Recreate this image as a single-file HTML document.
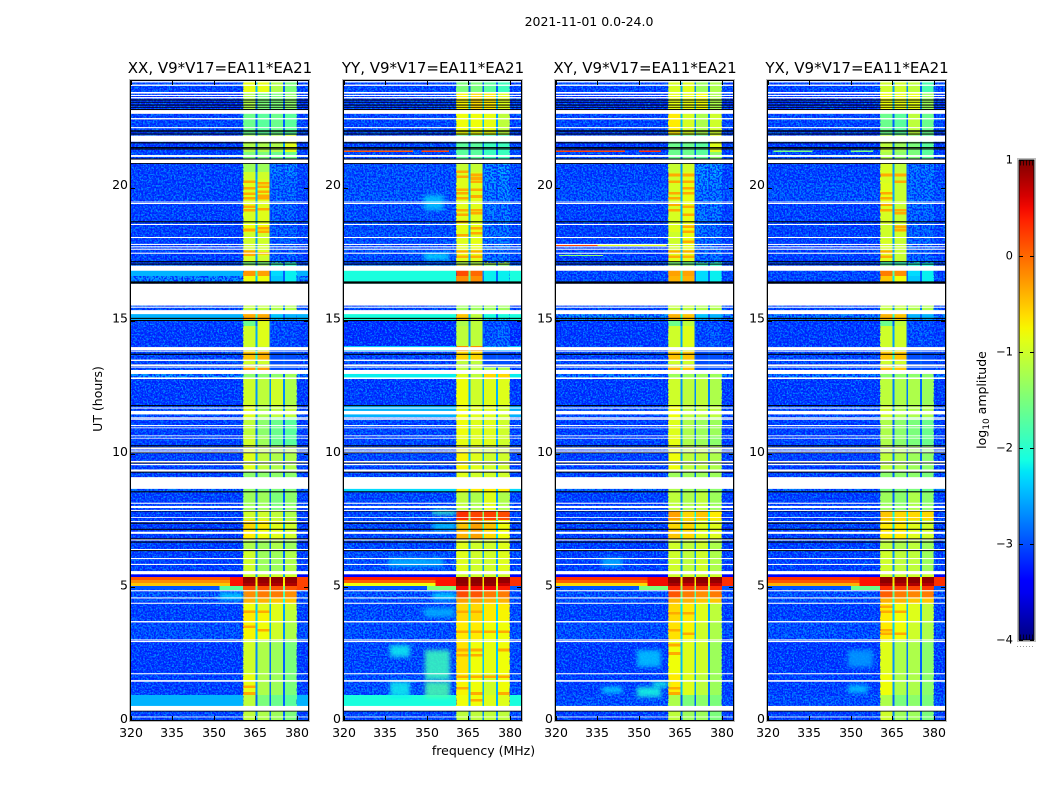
<!DOCTYPE html>
<html lang="en">
<head>
<meta charset="utf-8">
<title>2021-11-01 0.0-24.0</title>
<style>
html,body{margin:0;padding:0;background:#fff}
svg{display:block}
text{font-family:"DejaVu Sans","Liberation Sans",sans-serif;fill:#000}
</style>
</head>
<body>
<svg id="figure" xmlns="http://www.w3.org/2000/svg" width="1050" height="800" viewBox="0 0 1050 800">
<defs>
<filter id="speckle" x="0" y="0" width="100%" height="100%" color-interpolation-filters="sRGB">
<feTurbulence type="fractalNoise" baseFrequency="0.62" numOctaves="1" seed="7"/>
<feColorMatrix type="matrix" values="0 0 0 0 0  0 0 0 0 0.6  0 0 0 0 1  1 0 0 0 0"/>
<feComponentTransfer><feFuncA type="discrete" tableValues="0 0 0 0 0 0.55 0.75 0.85 0.9 1"/></feComponentTransfer>
</filter>
<filter id="speckle-dark" x="0" y="0" width="100%" height="100%" color-interpolation-filters="sRGB">
<feTurbulence type="fractalNoise" baseFrequency="0.55" numOctaves="1" seed="23"/>
<feColorMatrix type="matrix" values="0 0 0 0 0  0 0 0 0 0.08  0 0 0 0 1  1 0 0 0 0"/>
<feComponentTransfer><feFuncA type="discrete" tableValues="0 0 0 0 0 0.6 0.8 0.9 1 1"/></feComponentTransfer>
</filter>
<filter id="soften" x="-60%" y="-60%" width="220%" height="220%">
<feGaussianBlur stdDeviation="2"/>
</filter>
<linearGradient id="jet-gradient" x1="0" y1="1" x2="0" y2="0"></linearGradient>
</defs>
</svg>
<script>
// ---- data: axis ticks and labels ----
const freqTicks = [320, 335, 350, 365, 380];
const hourTicks = [0, 5, 10, 15, 20];
const colorTicks = [1, 0, -1, -2, -3, -4];
const panelNames = ["XX", "YY", "XY", "YX"];
const panelTitle = ", V9*V17=EA11*EA21";
// ---- data: spectral windows (MHz) ----
const bandEdgesMHz = [[360.5, 365], [365.7, 370.05], [370.6, 375.05], [375.65, 380]];
const freqRange = [320, 384];
// ---- data: time sections, UT hours ----
const rowEdgesUT = [24.00,23.55,22.91,21.97,21.33,20.92,20.58,20.43,20.32,20.17,19.91,19.46,19.23,18.63,18.33,18.03,17.65,17.42,17.20,17.06,16.67,16.38,15.24,15.02,14.79,14.04,13.85,13.52,13.23,12.99,12.80,11.82,11.37,10.66,10.28,9.38,9.12,8.55,7.84,7.50,7.16,6.75,6.37,5.46,5.35,5.24,5.13,5.02,4.87,4.57,4.38,4.12,3.67,2.99,1.71,0.92,0.51,-0.02];
// each row: log10 amplitude of [background, band1, band2, band3, band4]
const levelsXX = [
[-3,-.85,-.85,-1.2,-1.5],[-3.1,-1.2,-1.5,-1.5,-1.4],[-3,-1.6,-1.7,-1.6,-1.7],[-3.1,-1.2,-1.2,-1.2,-.9],[-3,-1.5,-1.5,-1.6,-1.6],
[-3.05,-1.3,-1.3,-2.7,-2.6],[-3.05,-1,-1,-2.7,-2.7],[-3.05,-1,-1,-2.8,-2.8],[-3.05,-.95,-.95,-2.8,-2.8],[-3.05,-.9,-.9,-2.8,-2.8],
[-3.05,-.9,-.9,-2.8,-2.8],[-3.05,-.9,-.9,-2.8,-2.8],[-3.05,-.95,-.9,-2.85,-2.85],[-3.05,-.8,-.75,-2.85,-2.85],[-3.05,-1,-1,-2.85,-2.85],
[-3.05,-1,-1,-2.85,-2.85],[-3.05,-.9,-.9,-2.85,-2.85],[-3.05,-.95,-1,-2.85,-2.85],[-3,-1.5,-1.5,-1.8,-1.9],[-2.5,-.25,-.3,-2.3,-2.2],
[-2.6,-.8,-.8,-2.4,-2.2],[-3,-1.1,-1.1,-1.2,-1.2],[-2.5,-.35,-.35,-2.4,-2.5],[-3.05,-1.6,-.9,-3,-3],[-3.1,-1,-.9,-3,-3],
[-3,-1,-1,-3,-3],[-3,-.5,-.4,-3,-3],[-3,-1,-1,-3,-3],[-3,-.3,-.3,-3,-3],[-2.6,-1.4,-1.4,-1.4,-1.3],
[-3.1,-1,-1.1,-1,-1.2],[-2.95,-.9,-1.2,-1.1,-1.1],[-3.05,-1.1,-1.4,-1.6,-1.7],[-3.05,-1,-1.3,-1.6,-1.7],[-3.05,-.9,-1.1,-1.2,-1.2],
[-3,-1.4,-1.4,-1.4,-1.4],[-2.8,-1.4,-1.5,-1.5,-1.5],[-3.05,-1.3,-1.3,-1.5,-1.4],[-3.05,-1,-1,-1.1,-1.2],[-3.1,-.6,-.7,-.9,-1],
[-3.1,-.7,-.8,-.9,-1],[-3.05,-1.2,-1.3,-1.2,-1.3],[-3.05,-1,-1.3,-1.3,-1.2],[-3.4,-1,-1,-1,-1],[.1,.95,.95,.95,.95],
[-.2,.9,.9,.9,.9],[-.5,.8,.8,.8,.8],[-2.95,.1,.1,.1,.1],[-2.9,-.2,-.1,-.1,-.2],[-2.95,-.4,-.4,-.5,-.5],
[-3.05,-.8,-.9,-.9,-1],[-3.05,-.7,-.75,-.9,-1.1],[-2.95,-.75,-.8,-1,-1.2],[-3.1,-1,-1.2,-1.3,-1.5],[-3.05,-.85,-1.2,-1.3,-1.5],
[-2.5,-1.1,-1.5,-1.6,-1.7],[-3,-1.1,-1.2,-1.3,-1.5]];
const levelsYY = [
[-3,-1.5,-1.5,-1.7,-1.9],[-3,-.75,-.6,-.7,-.9],[-3,-.8,-.8,-.85,-1.1],[-3,-1.7,-1.7,-1.9,-1.9],[-3,-1.7,-1.7,-1.9,-1.9],
[-2.95,-1.05,-1.05,-2.6,-2.5],[-2.95,-.95,-.95,-2.6,-2.5],[-2.95,-.95,-.95,-2.6,-2.6],[-2.95,-.9,-.9,-2.6,-2.6],[-2.95,-.9,-.9,-2.6,-2.6],
[-2.9,-.9,-.9,-2.7,-2.6],[-2.95,-.9,-.9,-2.7,-2.7],[-2.95,-.9,-.9,-2.7,-2.7],[-2.95,-.85,-.85,-2.7,-2.7],[-2.95,-.9,-.9,-2.7,-2.7],
[-2.95,-.9,-.85,-2.7,-2.7],[-2.95,-.85,-.85,-2.7,-2.7],[-2.95,-.9,-.9,-2.7,-2.7],[-3,-1.2,-1.2,-1.2,-1.2],[-2.1,.15,.0,-2.2,-2.2],
[-2.1,-.2,-.2,-2.2,-2.2],[-3,-1.3,-1.3,-1.3,-1.3],[-2.1,-.5,-1.1,-2.1,-2.1],[-3.2,-1.2,-1.1,-3,-3],[-3.2,-1.1,-1.1,-2.9,-2.8],
[-2.4,-.2,-.2,-2.5,-2.5],[-3,-.6,-.6,-3,-3],[-3,-1.1,-1.1,-3,-3],[-3,-1.1,-1.1,-1.2,-1.2],[-2.2,-.9,-1.1,-.6,-.6],
[-3.1,-.8,-1,-.9,-.9],[-2.5,-.8,-.9,-.9,-1],[-3,-.8,-.9,-.9,-1],[-3,-.85,-.9,-.9,-1],[-3,-.75,-.9,-1,-1],
[-3,-.9,-1,-1,-1],[-2.3,-.7,-.7,-.7,-.7],[-3,-1.1,-1.2,-.9,-1.2],[-2.95,.3,.2,.2,.15],[-3,-.5,-.3,-.5,-.8],
[-3,-.4,-.3,-.6,-.8],[-3,-.9,-1,-1,-.9],[-2.95,-.9,-1,-1,-.9],[-3.4,-1,-1,-1,-1],[.4,.95,.95,.95,.95],
[.05,.95,.95,.95,.9],[-.8,.9,.9,.9,.7],[-2.95,.5,.5,.5,.4],[-2.9,.15,.1,-.1,-.1],[-2.95,-.3,-.3,-.4,-.4],
[-3,-.6,-.6,-.7,-.7],[-2.95,-.6,-.6,-.7,-.75],[-2.95,-.7,-.7,-.8,-.8],[-3,-.65,-.8,-.85,-.8],[-2.95,-.75,-.8,-1,-.8],
[-2.1,-.8,-.8,-.9,-.9],[-3,-1.1,-1.1,-1.1,-1.1]];
const levelsXY = [
[-3,-.95,-.9,-1.3,-1.2],[-3.1,-.85,-.85,-.8,-1.2],[-3,-.7,-.95,-1.2,-1],[-3.1,-1.6,-1.6,-1.7,-.9],[-3,-1.6,-1.6,-1.7,-1.4],
[-3.05,-1.05,-1,-2.55,-2.5],[-3.05,-1,-.9,-2.55,-2.5],[-3.05,-1,-.9,-2.6,-2.6],[-3.05,-1,-.85,-2.6,-2.6],[-2.95,-.95,-.85,-2.6,-2.65],
[-2.95,-.95,-.85,-2.7,-2.7],[-3.05,-.95,-.85,-2.7,-2.6],[-3.05,-.95,-.85,-2.7,-2.7],[-3.05,-.9,-.8,-2.7,-2.75],[-3.05,-1,-.85,-2.75,-2.75],
[-3.05,-1,-.85,-2.75,-2.75],[-3.05,-.9,-.85,-2.75,-2.75],[-3.05,-.9,-.9,-2.75,-2.75],[-3,-1.5,-1.6,-1.8,-1.9],[-3,-.3,-.3,-2.3,-2.2],
[-3,-.4,-.4,-2.3,-2.2],[-3,-1.1,-1.1,-1.2,-1.2],[-2.6,-.4,-.5,-2.4,-2.5],[-3.1,-1.6,-1.1,-3,-3],[-3.1,-1,-.9,-3,-2.9],
[-3,-1,-1,-3,-3],[-3,-.5,-.5,-3,-3],[-3,-1,-1,-3,-3],[-3,-.4,-.5,-3,-3],[-2.7,-1.3,-1.3,-1.3,-1.3],
[-3.1,-1,-1.1,-1.1,-1.2],[-2.95,-.8,-1.1,-1.1,-1.1],[-3.05,-.9,-1.2,-1.3,-1.3],[-3.05,-.85,-1.2,-1.3,-1.4],[-3.05,-.8,-1.1,-1.1,-1.2],
[-3,-1.3,-1.3,-1.3,-1.3],[-2.8,-1.2,-1.3,-1.3,-1.4],[-3.05,-1.1,-1.2,-1.1,-1.3],[-3.05,-.3,-.6,-.5,-.7],[-3.05,-.6,-.6,-.9,-.9],
[-3.05,-.5,-.6,-.9,-.9],[-3.05,-1,-1.1,-1,-1.2],[-3.05,-1,-1.1,-1,-1.2],[-3.4,-1,-1,-1,-1],[.3,.95,.95,.95,.95],
[.05,.95,.9,.95,.9],[-.6,.8,.7,.8,.7],[-2.95,.35,.2,.2,.3],[-2.9,.1,-.1,-.2,-.1],[-2.95,-.4,-.4,-.5,-.5],
[-3.05,-.6,-.7,-.9,-1.1],[-3.05,-.6,-.7,-.9,-1.1],[-2.95,-.65,-.75,-1,-1.2],[-3.1,-.8,-.9,-1,-1.3],[-3.05,-.7,-.9,-1.1,-1.3],
[-2.95,-1.2,-1.5,-1.4,-1.5],[-3.05,-1.1,-1.3,-1.3,-1.5]];
const levelsYX = [
[-3,-1,-1,-1.1,-1.8],[-3.1,-.8,-.85,-.85,-1.3],[-3,-1.6,-1.7,-1.1,-1.6],[-3.1,-1.1,-1.3,-1.5,-1.7],[-3,-1.2,-1.4,-1.5,-1.7],
[-3.05,-.95,-1.1,-2.75,-2.7],[-3.05,-.9,-1.05,-2.75,-2.7],[-3.05,-.95,-1.05,-2.75,-2.75],[-3.05,-.95,-1.05,-2.75,-2.75],[-2.95,-.9,-1.05,-2.75,-2.75],
[-2.95,-.85,-1.05,-2.75,-2.75],[-3.05,-.9,-1.05,-2.75,-2.7],[-3.05,-.95,-1.05,-2.8,-2.8],[-3.05,-1,-.95,-2.8,-2.8],[-3.05,-1,-1,-2.8,-2.8],
[-3.05,-.95,-1.05,-2.8,-2.8],[-3.05,-.9,-1.05,-2.8,-2.8],[-3.05,-.9,-1.05,-2.8,-2.8],[-3,-1.8,-1.9,-2,-2.1],[-3,-.1,-.2,-2.3,-2.2],
[-3,-.5,-.8,-2.4,-2.2],[-3,-1.1,-1.1,-1.2,-1.2],[-2.7,-.4,-.5,-2.5,-2.5],[-3.1,-1.6,-1.1,-3,-3],[-3.1,-1,-1,-3,-3],
[-3,-1,-1,-3,-3],[-3,-.5,-.5,-3,-3],[-3,-1,-1,-3,-3],[-3,-.45,-.5,-3,-3],[-2.7,-1.4,-1.4,-1.4,-1.4],
[-3.1,-1.1,-1.2,-1.2,-1.3],[-2.95,-1,-1.2,-1.2,-1.2],[-3.05,-1.2,-1.4,-1.5,-1.6],[-3.05,-1.2,-1.4,-1.5,-1.6],[-3.05,-1.1,-1.2,-1.3,-1.4],
[-3,-1.4,-1.4,-1.4,-1.5],[-2.8,-1.5,-1.5,-1.5,-1.6],[-3.05,-1.3,-1.4,-1.2,-1.4],[-3.05,-.5,-.6,-.6,-.6],[-3.05,-.7,-.7,-.9,-1],
[-3.05,-.7,-.7,-.9,-1],[-3.05,-1.1,-1.2,-1.1,-1.3],[-3.05,-1,-1.1,-1.1,-1.3],[-3.4,-1,-1,-1,-1],[.3,.95,.95,.95,.95],
[.1,.95,.9,.95,.9],[-.4,.8,.75,.8,.75],[-2.95,.3,.2,.2,.25],[-2.9,.05,-.1,-.15,-.1],[-2.95,-.4,-.4,-.5,-.5],
[-3.05,-.7,-.8,-.9,-1.1],[-3.05,-.7,-.8,-.9,-1.1],[-2.95,-.7,-.8,-1,-1.2],[-3.1,-.9,-1.2,-1.2,-1.4],[-3.05,-.8,-1.2,-1.2,-1.4],
[-2.95,-1.2,-1.5,-1.4,-1.5],[-3.05,-1,-1.3,-1.3,-1.5]];
// narrow orange stripes: for each of the four bands, the UT hours where they occur
const stripesXX = [[20.22,19.97,19.76,19.6,19.28,19.15,18.4,17.59,17.47,4.05,3.49,1.23,.98],[20.16,20.03,19.84,19.69,19.6,19.18,18.47,18.34,17.53,4.05,3.36],[],[]];
const stripesYY = [[20.59,20.41,19.91,19.78,19.6,19.15,18.97,18.71,18.21,17.59,17.4,4.05,3.3,2.61,2.42,1.61,1.17],[20.47,20.34,20.22,19.91,19.66,19.15,19.03,18.47,18.28,17.59,17.4,4.05,3.3,2.61,2.42,1.61,.98,.73],[3.3,1.61],[3.3,2.61,1.61,.98]];
const stripesXY = [[20.47,20.22,19.78,19.6,19.35,19.15,17.59,17.4,4,3.36,2.8,2.48,1.17,.98],[20.47,20.22,19.97,19.78,19.27,18.97,18.53,18.34,17.96,17.59,17.4,4,3.23],[],[]];
const stripesYX = [[20.47,19.78,19.6,19.35,19.15,17.59,17.4,4.24,4.05,3.36,3.23],[20.47,20.22,19.15,19.03,18.53,18.4,4.05,3.23],[],[]];
const stripeLevel = -.35;
const stripeSpan = .1;
// sharp localised features: [hourFrom, hourTo, mhzFrom, mhzTo, level]
const patchesXX = [[5.02,5.35,355.8,360.5,.45],[4.87,5.35,380,384,.2],[4.87,5.02,352,360.5,-1.7]];
const patchesYY = [[21.33,21.39,320,345,.1],[21.33,21.39,348,358,.2],[5.02,5.35,353,360.5,.45],[4.87,5.02,350,360.5,-1.5],[5.02,5.35,380,384,.3]];
const patchesXY = [[21.33,21.39,320,345,.2],[21.33,21.39,350,358,.3],[17.8,17.86,320,360,-.9],[17.8,17.86,320,335,.2],[17.43,17.47,321,337,-1.4],[5.02,5.35,353,360.5,.5],[4.87,5.02,350,360.5,-1.5],[5.02,5.35,380,384,.3]];
const patchesYX = [[21.33,21.39,322,336,-1.5],[21.33,21.39,350,358,-1.5],[5.02,5.35,353,360.5,.45],[4.87,5.02,350,360.5,-1.6],[5.02,5.35,380,384,.3]];
// diffuse emission blobs, same layout
const softXX = [[4.5,4.75,352,360.5,-2.3]];
const softYY = [[2.35,2.80,336.6,343.9,-2.2],[1.48,2.61,349.3,358.3,-1.9],[.85,1.42,336.6,343.9,-2.2],[.81,1.42,349.3,358.3,-1.8],[5.73,6.07,336,356,-2.5],[3.85,4.19,349,360,-2.5],[17.27,17.54,349,358,-2.3],[19.15,19.72,349,356,-2.4],[7.1,7.4,352,360.5,-2.4],[7.7,7.88,352,360.5,-1.9],[4.5,4.75,352,360.5,-2.3]];
const softXY = [[5.73,6.07,336.6,344,-2.5],[1.97,2.61,349.3,358,-2.4],[.85,1.22,349.3,358,-2.1],[1,1.22,336.6,344,-2.3],[1.22,1.42,355,360.5,-2.1]];
const softYX = [[1.97,2.61,349,358,-2.6],[1,1.3,349,356,-2.4]];
const panelLevels = [levelsXX, levelsYY, levelsXY, levelsYX];
const panelStripes = [stripesXX, stripesYY, stripesXY, stripesYX];
const panelPatches = [patchesXX, patchesYY, patchesXY, patchesYX];
const panelSoft = [softXX, softYY, softXY, softYX];
// ---- data: flagged (blank) and zero (black) integrations, UT hours [from,to] ----
const flaggedUT = [[23.95,24],[23.82,23.87],[23.53,23.59],[23.44,23.48],[23.35,23.40],[22.77,22.91],[22.56,22.61],[22.23,22.27],[21.72,21.95],[21.15,21.22],[20.92,21.05],[19.44,19.47],[19.38,19.42],[18.59,18.63],[18.10,18.14],[17.84,17.88],[17.75,17.79],[17.66,17.70],[17.51,17.55],[16.87,17.06],[15.56,16.38],[15.48,15.52],[15.24,15.39],[13.88,14.00],[13.83,13.86],[13.48,13.53],[13.29,13.35],[13.23,13.27],[12.99,13.14],[12.80,12.86],[11.69,11.73],[11.47,11.60],[11.32,11.36],[11.27,11.31],[11.03,11.07],[10.95,10.98],[10.65,10.68],[10.56,10.59],[10.17,10.23],[10.11,10.15],[10.04,10.08],[9.66,9.72],[9.56,9.61],[9.32,9.40],[8.67,9.11],[8.11,8.15],[7.95,8.03],[7.84,7.88],[7.58,7.61],[7.42,7.46],[6.98,7.06],[6.73,6.77],[6.37,6.41],[6.03,6.07],[5.81,5.85],[5.46,5.58],[4.82,4.86],[4.55,4.59],[4.35,4.39],[3.65,3.70],[2.97,3.01],[2.91,2.95],[1.70,1.74],[1.42,1.48],[.33,.51],[.08,.11]];
const zeroUT = [[23.27,23.31],[23.19,23.22],[23.08,23.12],[23.0,23.03],[22.91,22.95],[22.12,22.15],[22.08,22.11],[21.99,22.03],[21.66,21.70],[21.48,21.52],[21.43,21.47],[21.05,21.09],[20.89,20.93],[18.69,18.73],[17.19,17.23],[17.1,17.14],[16.38,16.47],[15.06,15.10],[14.98,15.02],[13.71,13.75],[13.31,13.35],[12.81,12.85],[11.78,11.82],[10.27,10.31],[10.2,10.24],[10.01,10.05],[9.63,9.67],[9.28,9.32],[8.54,8.58],[7.82,7.86],[7.36,7.40],[7.13,7.17],[6.77,6.81],[6.65,6.69],[6.33,6.37],[.3,.34]];
// out-of-band noise also shows in the quiet outer windows for these spells: [hourFrom, hourTo]
const quietBandSpells = [[17.17,20.92],[14.04,15.02]];

// ---- geometry & scales ----
const SVGNS = "http://www.w3.org/2000/svg";
const svg = document.getElementById("figure");
const panelLefts = [131, 344, 556, 768];
const plotTop = 81, plotBottom = 720, plotWidth = 177;
const notchDepth = 1.6;
const smoothBackgroundAbove = -2.6;
function yOfHour(h) { return 719.5 - 26.6 * h; }
function xOfFreq(f, left) { return left + (f - freqRange[0]) * (plotWidth / (freqRange[1] - freqRange[0])); }
function piece(t, pts) {
  for (let i = 1; i < pts.length; i++) {
    if (t <= pts[i][0]) {
      const a = pts[i - 1], b = pts[i];
      return a[1] + (b[1] - a[1]) * (t - a[0]) / (b[0] - a[0]);
    }
  }
  return pts[pts.length - 1][1];
}
function jet(t) {
  t = Math.max(0, Math.min(1, t));
  const r = piece(t, [[0, 0], [.35, 0], [.66, 1], [.89, 1], [1, .5]]);
  const g = piece(t, [[0, 0], [.125, 0], [.375, 1], [.64, 1], [.91, 0], [1, 0]]);
  const b = piece(t, [[0, .5], [.11, 1], [.34, 1], [.65, 0], [1, 0]]);
  return "rgb(" + Math.round(r * 255) + "," + Math.round(g * 255) + "," + Math.round(b * 255) + ")";
}
function colorOfLevel(v) { return jet((v + 4) / 5); }
function make(tag, parent, attrs, txt) {
  const el = document.createElementNS(SVGNS, tag);
  for (const k in attrs) el.setAttribute(k, attrs[k]);
  if (txt !== undefined) el.textContent = txt;
  parent.appendChild(el);
  return el;
}
function cell(parent, x0, x1, y0, y1, fill) {
  const el = make("rect", parent, { x: x0, y: y0, width: Math.max(0, x1 - x0), height: Math.max(0, y1 - y0), fill: fill, "shape-rendering": "crispEdges" });
  
  
  return el;
}
function noiseRect(parent, x0, x1, y0, y1) {
  ["speckle", "speckle-dark"].forEach(function (f) {
    const tex = make("rect", parent, { x: x0, y: y0, width: x1 - x0, height: y1 - y0, filter: "url(#" + f + ")" });
    
    
  });
}

// ---- figure title & shared labels ----
const sup = make("text", svg, { x: 589, y: 26, "text-anchor": "middle", "font-size": "12.5" }, "2021-11-01 0.0-24.0");


const xLab = make("text", svg, { x: 483.5, y: 755, "text-anchor": "middle", "font-size": "12.5" }, "frequency (MHz)");


const yLab = make("text", svg, { x: 102, y: 399, "text-anchor": "middle", "font-size": "12.5", transform: "rotate(-90 102 399)" }, "UT (hours)");



// ---- panels ----
panelNames.forEach(function (name, p) {
  const left = panelLefts[p], right = left + plotWidth;
  const levels = panelLevels[p], patches = panelPatches[p], soft = panelSoft[p], stripes = panelStripes[p];
  const g = make("g", svg, {});
  
  
  const clipId = "clip-" + name;
  const clip = make("clipPath", g, { id: clipId });
  make("rect", clip, { x: left, y: plotTop, width: plotWidth, height: plotBottom - plotTop });
  const heat = make("g", g, { "clip-path": "url(#" + clipId + ")" });
  
  

  levels.forEach(function (row, r) {
    const y0 = yOfHour(rowEdgesUT[r]), y1 = yOfHour(rowEdgesUT[r + 1]);
    const bgColor = colorOfLevel(row[0]);
    cell(heat, left, xOfFreq(bandEdgesMHz[0][0], left), y0, y1, bgColor);
    cell(heat, xOfFreq(bandEdgesMHz[3][1], left), right, y0, y1, bgColor);
    bandEdgesMHz.forEach(function (edges, b) {
      const xa = xOfFreq(edges[0], left), xb = xOfFreq(edges[1], left);
      cell(heat, xa, xb, y0, y1, colorOfLevel(row[b + 1]));
      if (b < bandEdgesMHz.length - 1) {
        const next = xOfFreq(bandEdgesMHz[b + 1][0], left);
        const notch = Math.max(-2.9, (row[b + 1] + row[b + 2]) / 2 - notchDepth);
        cell(heat, xb, next, y0, y1, colorOfLevel(notch));
      }
    });
  });

  // narrow stripes inside the spectral windows
  stripes.forEach(function (hours, b) {
    const xa = xOfFreq(bandEdgesMHz[b][0], left), xb = xOfFreq(bandEdgesMHz[b][1], left);
    hours.forEach(function (h) {
      cell(heat, xa, xb, yOfHour(h + stripeSpan / 2), yOfHour(h - stripeSpan / 2), colorOfLevel(stripeLevel));
    });
  });

  // receiver noise texture over the out-of-band background
  [[freqRange[0], bandEdgesMHz[0][0]], [bandEdgesMHz[3][1], freqRange[1]]].forEach(function (span) {
    [[plotTop, yOfHour(5.46)], [yOfHour(4.87), plotBottom]].forEach(function (vert) {
      noiseRect(heat, xOfFreq(span[0], left), xOfFreq(span[1], left), vert[0], vert[1]);
    });
  });
  quietBandSpells.forEach(function (s) {
    noiseRect(heat, xOfFreq(bandEdgesMHz[2][0], left), xOfFreq(bandEdgesMHz[3][1], left), yOfHour(s[1]), yOfHour(s[0]));
  });
  // brighter sections stay smooth: repaint them above the noise
  levels.forEach(function (row, r) {
    if (row[0] > smoothBackgroundAbove && (r < 44 || r > 46)) {
      const y0 = yOfHour(rowEdgesUT[r]), y1 = yOfHour(rowEdgesUT[r + 1]);
      const fill = colorOfLevel(row[0]);
      cell(heat, left, xOfFreq(bandEdgesMHz[0][0], left), y0, y1, fill);
      cell(heat, xOfFreq(bandEdgesMHz[3][1], left), right, y0, y1, fill);
    }
  });

  const softLayer = make("g", heat, { opacity: .85 });
  
  
  soft.forEach(function (q) {
    const blob = cell(softLayer, xOfFreq(q[2], left), xOfFreq(q[3], left), yOfHour(q[1]), yOfHour(q[0]), colorOfLevel(q[4]));
    blob.setAttribute("filter", "url(#soften)");
  });
  patches.forEach(function (q) {
    cell(heat, xOfFreq(q[2], left), xOfFreq(q[3], left), yOfHour(q[1]), yOfHour(q[0]), colorOfLevel(q[4]));
  });

  zeroUT.forEach(function (z) {
    const el = make("rect", heat, { x: left, width: plotWidth, y: yOfHour(z[1]), height: yOfHour(z[0]) - yOfHour(z[1]), fill: "#000" });
    
    
  });
  flaggedUT.forEach(function (z) {
    const el = make("rect", heat, { x: left, width: plotWidth, y: yOfHour(z[1]), height: yOfHour(z[0]) - yOfHour(z[1]), fill: "#fff" });
    
    
  });

  // frame
  const outer = make("rect", g, { x: left - 1.5, y: plotTop - 1.5, width: plotWidth + 3, height: plotBottom - plotTop + 3, fill: "none", stroke: "#bdbdbd", "stroke-width": 1 });
  
  
  const frame = make("rect", g, { x: left - .5, y: plotTop - .5, width: plotWidth + 1, height: plotBottom - plotTop + 1, fill: "none", stroke: "#000", "stroke-width": 1 });
  
  

  // x ticks
  freqTicks.forEach(function (f) {
    const x = Math.round(xOfFreq(f, left)) + .5;
    const t1 = make("line", g, { x1: x, x2: x, y1: plotBottom, y2: plotBottom - 4, stroke: "#000" });
    
    
    const t2 = make("line", g, { x1: x, x2: x, y1: plotTop, y2: plotTop + 4, stroke: "#000" });
    
    
    const lab = make("text", g, { x: x - .5, y: 737, "text-anchor": "middle", "font-size": "12.5" }, String(f));
    
    
  });
  // y ticks
  hourTicks.forEach(function (h) {
    const y = Math.round(yOfHour(h)) + .5;
    const t1 = make("line", g, { x1: left, x2: left + 4, y1: y, y2: y, stroke: "#000" });
    
    
    const t2 = make("line", g, { x1: right, x2: right - 4, y1: y, y2: y, stroke: "#000" });
    
    
    const lab = make("text", g, { x: left - 3, y: 719.5 - 26.7 * h + 3.5, "text-anchor": "end", "font-size": "12.5" }, String(h));
    
    
  });
  const title = make("text", g, { x: left + 89, y: 73, "text-anchor": "middle", "font-size": "15" }, name + panelTitle);
  
  
});

// ---- colour bar ----
const cbX = 1019, cbW = 15, cbTop = 160, cbBottom = 640;
function yOfColor(v) { return cbBottom - (v + 4) * (cbBottom - cbTop) / 5; }
const grad = document.getElementById("jet-gradient");
for (let i = 0; i <= 40; i++) {
  make("stop", grad, { offset: i / 40, "stop-color": jet(i / 40) });
}
const cb = make("g", svg, {});


const cbShadow = make("rect", cb, { x: cbX - 1.5, y: cbTop - 1.5, width: cbW + 3, height: cbBottom - cbTop + 3, fill: "none", stroke: "#bdbdbd" });


const cbFill = make("rect", cb, { x: cbX, y: cbTop, width: cbW, height: cbBottom - cbTop, fill: "url(#jet-gradient)", stroke: "#000" });


colorTicks.forEach(function (v) {
  const y = Math.min(cbBottom, Math.max(cbTop, Math.round(yOfColor(v)))) + .5;
  const t1 = make("line", cb, { x1: cbX, x2: cbX + 4, y1: y, y2: y, stroke: "#000" });
  
  
  const t2 = make("line", cb, { x1: cbX + cbW, x2: cbX + cbW - 4, y1: y, y2: y, stroke: "#000" });
  
  
  const lab = make("text", cb, { x: cbX - 6, y: y + 3, "text-anchor": "end", "font-size": "11.5" }, String(v).replace("-", "\u2212"));
  
  
});
// minor ticks crowded at both ends of the bar
const minorTop = make("line", cb, { x1: cbX + 1, x2: cbX + cbW - 1, y1: cbTop + 3, y2: cbTop + 3, stroke: "#000", "stroke-width": 5, "stroke-dasharray": "1 2" , opacity: .7});


const minorBottom = make("line", cb, { x1: cbX + 1, x2: cbX + cbW - 1, y1: cbBottom - 3, y2: cbBottom - 3, stroke: "#000", "stroke-width": 5, "stroke-dasharray": "1 2", opacity: .7 });


const cbDots = make("line", cb, { x1: 1017, x2: 1035, y1: 646.5, y2: 646.5, stroke: "#999", "stroke-dasharray": "1 2" });


const cbLab = make("text", cb, { x: 986, y: 400, "text-anchor": "middle", "font-size": "12.5", transform: "rotate(-90 986 400)" });


make("tspan", cbLab, {}, "log");
make("tspan", cbLab, { "font-size": "9", dy: "3" }, "10");
make("tspan", cbLab, { dy: "-3" }, " amplitude");
</script>
</body>
</html>
